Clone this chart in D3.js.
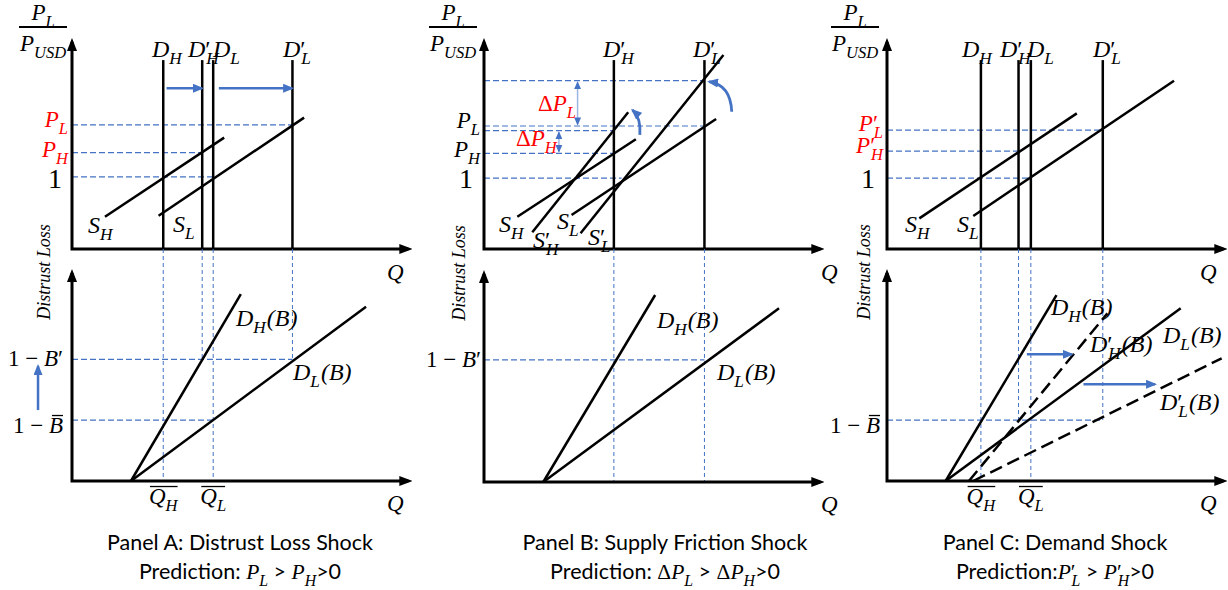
<!DOCTYPE html>
<html>
<head>
<meta charset="utf-8">
<script src="https://cdn.jsdelivr.net/npm/d3@7"></script>
<style>
  body { margin: 0; background: #fff; }
  svg text { font-family: "Liberation Serif", "DejaVu Serif", serif; font-style: italic; }
  svg text .up, svg text.up { font-style: normal; }
  svg text.cap, svg text .sans { font-family: Lato, "Open Sans", sans-serif; font-style: normal; }
  .guide { stroke: #4472C4; stroke-width: 1.2; stroke-dasharray: 6 3; fill: none; }
  .drop { stroke: #4472C4; stroke-width: 1; stroke-dasharray: 4 3; fill: none; }
  .curve { stroke: #000; stroke-width: 2.5; fill: none; }
  .dashcurve { stroke: #000; stroke-width: 2.5; fill: none; stroke-dasharray: 13 6; }
</style>
</head>
<body>
<svg id="chart" width="1228" height="590"></svg>
<script>
// ---------- Panel A: distrust loss shock ----------
const demandQA = [2.74, 3.91, 4.24, 6.62];
const demandNamesA = ["D_H", "D′_H", "D_L", "D′_L"];
const supplyA = [[0.99, 1.58, 4.57, 5.46], [2.60, 1.63, 6.97, 6.44]];
const supplyNamesA = ["S_H", "S_L"];
const priceLevelsA = [6.08, 4.72, 3.54];
const priceNamesA = ["P_L", "P_H", "1"];
const priceReachA = [6.62, 3.91, 4.24];
const scheduleA = [[1.77, 0, 5.07, 8.98], [1.77, 0, 8.83, 8.38]];
const scheduleNamesA = ["D_H(B)", "D_L(B)"];
const lossLevelsA = [5.85, 2.93];
const lossNamesA = ["1 − B′", "1 − B̄"];
const lossReachA = [6.62, 4.24];
const dropsA = [[2.74, 0], [3.91, 5.85], [4.24, 0], [6.62, 5.85]];
const qBarA = [2.74, 4.24];
const qBarNamesA = ["Q̄_H", "Q̄_L"];
const demandShiftsA = [[2.84, 3.90, 7.88], [4.41, 6.61, 7.88]];
const lossShiftA = [[-1.02, 3.41, 5.53]];

// ---------- Panel B: supply friction shock ----------
const demandQB = [3.90, 6.62];
const demandNamesB = ["D′_H", "D′_L"];
const supplyB = [[1.00, 1.58, 4.56, 5.38], [1.45, 0.82, 4.33, 6.70],
                 [2.63, 1.67, 6.97, 6.37], [2.90, 0.77, 7.19, 9.51]];
const supplyNamesB = ["S_H", "S′_H", "S_L", "S′_L"];
const priceLevelsB = [8.25, 6.03, 5.80, 4.69, 3.47];
const priceNamesB = ["", "P_L", "", "P_H", "1"];
const priceReachB = [6.62, 6.62, 3.90, 3.90, 4.13];
const deltaB = [[2.81, 6.03, 8.25], [2.25, 4.69, 5.80]];
const deltaNamesB = ["ΔP_L", "ΔP_H"];
const rotationsB = [[4.68, 5.59, 4.72, 6.42, 4.46, 6.81], [7.44, 6.73, 7.40, 8.05, 6.76, 8.20]];
const scheduleB = [[1.78, 0, 5.14, 8.99], [1.78, 0, 8.86, 8.35]];
const scheduleNamesB = ["D_H(B)", "D_L(B)"];
const lossLevelsB = [5.87];
const lossNamesB = ["1 − B′"];
const lossReachB = [6.62];
const dropsB = [[3.90, 0], [6.62, 0]];

// ---------- Panel C: demand shock ----------
const demandQC = [2.82, 3.95, 4.32, 6.48];
const demandNamesC = ["D_H", "D′_H", "D_L", "D′_L"];
const supplyC = [[0.97, 1.50, 5.70, 6.65], [2.59, 1.62, 8.62, 8.25]];
const supplyNamesC = ["S_H", "S_L"];
const priceLevelsC = [5.83, 4.80, 3.47];
const priceNamesC = ["P′_L", "P′_H", "1"];
const priceReachC = [6.48, 3.95, 4.32];
const scheduleC = [[1.76, 0, 5.09, 8.94], [1.76, 0, 8.82, 8.30]];
const scheduleNamesC = ["D_H(B)", "D_L(B)"];
const shiftedScheduleC = [[2.46, 0, 6.62, 8.06], [2.59, 0, 10.05, 5.90]];
const shiftedNamesC = ["D′_H(B)", "D′_L(B)"];
const lossLevelsC = [2.93];
const lossNamesC = ["1 − B̄"];
const lossReachC = [6.48];
const dropsC = [[2.82, 0], [3.95, 2.93], [4.32, 0], [6.48, 2.93]];
const qBarC = [2.82, 4.32];
const qBarNamesC = ["Q̄_H", "Q̄_L"];
const scheduleShiftsC = [[4.20, 5.55, 6.09], [5.90, 8.05, 4.65]];

// ---------- captions ----------
const panelTitles = ["Panel A: Distrust Loss Shock", "Panel B: Supply Friction Shock", "Panel C: Demand Shock"];
const predictions = [
  [["Prediction: ", "sans"], ["P_L", "math"], [" > ", "sans"], ["P_H", "math"], [">0", "sans"]],
  [["Prediction: ", "sans"], ["ΔP_L", "math"], [" > ", "sans"], ["ΔP_H", "math"], [">0", "sans"]],
  [["Prediction:", "sans"], ["P′_L", "math"], [" > ", "sans"], ["P′_H", "math"], [">0", "sans"]]
];

const BLUE = "#4472C4";
const RED = "#FF0000";

// shared scales: model units -> pixels measured from each panel's origin
const x = d3.scaleLinear().domain([0, 10]).range([0, 333]);
const yTop = d3.scaleLinear().domain([0, 10]).range([0, -204]);
const yBot = d3.scaleLinear().domain([0, 10]).range([0, -208]);

const svg = d3.select("#chart");
const defs = svg.append("defs");
function marker(id, color, w, h, ref) {
  defs.append("marker").attr("id", id)
    .attr("viewBox", `0 0 ${w} ${h}`)
    .attr("refX", ref).attr("refY", h / 2)
    .attr("markerWidth", w).attr("markerHeight", h)
    .attr("markerUnits", "userSpaceOnUse")
    .attr("orient", "auto-start-reverse")
    .append("path").attr("d", `M0,0L${w},${h / 2}L0,${h}Z`).attr("fill", color);
}
marker("axisHead", "#000", 13, 10, 9);
marker("blueHead", BLUE, 11, 9, 9);
marker("smallHead", BLUE, 8, 7, 7);

// Append a math expression (e.g. "D′_H(B)", "1 − B̄", "ΔP_L") as tspans.
// Returns the baseline shift still pending after a trailing subscript.
function appendMath(t, str, size) {
  if (str === "1") { t.append("tspan").attr("class", "up").text("1"); return { restore: 0 }; }
  const m = /^(1 − |Δ)?([A-Z])(\u0304)?(′)?(?:_([A-Z]+))?(.*)$/.exec(str);
  const [, pre, base, bar, prime, sub, tail] = m;
  if (pre) t.append("tspan").attr("class", "up").text(pre);
  t.append("tspan").text(base);
  if (prime) t.append("tspan").attr("class", "up").text("′");
  if (sub) t.append("tspan").attr("font-size", size * 0.72)
    .attr("dx", prime ? -size * 0.18 : 0).attr("dy", size * 0.3).text(sub);
  let restore = sub ? size * 0.3 : 0;
  if (tail) { t.append("tspan").attr("dy", -restore).attr("dx", 1).text(tail); restore = 0; }
  return { restore, bar: !!bar, sub: !!sub, barIndex: pre ? pre.length : 0 };
}

function mathLabel(g, px, py, str, o = {}) {
  const size = o.size || 23;
  const t = g.append("text").attr("x", px).attr("y", py)
    .attr("font-size", size).attr("fill", o.color || "#000")
    .attr("text-anchor", o.anchor || "start");
  const info = appendMath(t, str, size);
  if (info.bar) {
    let x0, x1;
    if (info.sub) { const b = t.node().getBBox(); x0 = b.x + 1; x1 = b.x + b.width - 1; }
    else { const e = t.node().getExtentOfChar(info.barIndex); x0 = e.x + 3; x1 = e.x + e.width; }
    g.append("line").attr("x1", x0).attr("x2", x1)
      .attr("y1", py - size * 0.76).attr("y2", py - size * 0.76)
      .attr("stroke", o.color || "#000").attr("stroke-width", 1.3);
  }
  return t;
}

function segment(g, seg, y, cls) {
  g.append("line").attr("class", cls)
    .attr("x1", x(seg[0])).attr("y1", y(seg[1]))
    .attr("x2", x(seg[2])).attr("y2", y(seg[3]));
}

function axes(g, y, yMax) {
  g.append("path")
    .attr("d", `M0,${y(yMax)}L0,0L${x(10.1)},0`)
    .attr("fill", "none").attr("stroke", "#000").attr("stroke-width", 3)
    .attr("marker-start", "url(#axisHead)").attr("marker-end", "url(#axisHead)");
}

function panel(c) {
  const T = svg.append("g").attr("transform", `translate(${c.ox},${c.top})`);
  const B = svg.append("g").attr("transform", `translate(${c.ox},${c.bot})`);
  const gap = c.bot - c.top;

  // dashed guides
  c.drops.forEach(d => B.append("line").attr("class", "drop")
    .attr("x1", x(d[0])).attr("x2", x(d[0])).attr("y1", -gap).attr("y2", yBot(d[1])));
  c.prices.forEach((p, i) => T.append("line").attr("class", "guide")
    .attr("x1", 0).attr("x2", x(c.priceReach[i])).attr("y1", yTop(p)).attr("y2", yTop(p)));
  c.losses.forEach((v, i) => B.append("line").attr("class", "guide")
    .attr("x1", 0).attr("x2", x(c.lossReach[i])).attr("y1", yBot(v)).attr("y2", yBot(v)));

  // supply and demand (upper)
  c.supply.forEach(s => segment(T, s, yTop, "curve"));
  c.demand.forEach(q => T.append("line").attr("class", "curve").attr("stroke-width", 2.6)
    .attr("x1", x(q)).attr("x2", x(q)).attr("y1", yTop(9.26)).attr("y2", 0));

  // distrust-loss schedules (lower)
  c.schedules.forEach(s => segment(B, s, yBot, "curve"));
  (c.shiftedSchedules || []).forEach(s => segment(B, s, yBot, "dashcurve"));

  // blue horizontal shift arrows
  (c.demandShifts || []).forEach(a => T.append("line")
    .attr("x1", x(a[0])).attr("x2", x(a[1])).attr("y1", yTop(a[2])).attr("y2", yTop(a[2]))
    .attr("stroke", BLUE).attr("stroke-width", 2.5).attr("marker-end", "url(#blueHead)"));
  (c.scheduleShifts || []).forEach(a => B.append("line")
    .attr("x1", x(a[0])).attr("x2", x(a[1])).attr("y1", yBot(a[2])).attr("y2", yBot(a[2]))
    .attr("stroke", BLUE).attr("stroke-width", 2.5).attr("marker-end", "url(#blueHead)"));
  (c.lossShift || []).forEach(a => B.append("line")
    .attr("x1", x(a[0])).attr("x2", x(a[0])).attr("y1", yBot(a[1])).attr("y2", yBot(a[2]))
    .attr("stroke", BLUE).attr("stroke-width", 2.5).attr("marker-end", "url(#blueHead)"));
  // price-change brackets
  (c.deltas || []).forEach(a => T.append("line")
    .attr("x1", x(a[0])).attr("x2", x(a[0])).attr("y1", yTop(a[1]) - 1.5).attr("y2", yTop(a[2]) + 1.5)
    .attr("stroke", "#9DB5E3").attr("stroke-width", 1.5)
    .attr("marker-start", "url(#smallHead)").attr("marker-end", "url(#smallHead)"));
  // rotation arrows of the supply curves
  (c.rotations || []).forEach(r => T.append("path")
    .attr("d", `M${x(r[0])},${yTop(r[1])}Q${x(r[2])},${yTop(r[3])} ${x(r[4])},${yTop(r[5])}`)
    .attr("fill", "none").attr("stroke", BLUE).attr("stroke-width", 2.8)
    .attr("marker-end", "url(#blueHead)"));

  axes(T, yTop, 10.15);
  axes(B, yBot, 10.0);

  // ----- labels -----
  c.demandNames.forEach((n, i) => mathLabel(T, c.L.demandX[i], -192, n, { size: 24 }));
  c.supplyNames.forEach((n, i) => mathLabel(T, c.L.supplyXY[i][0], c.L.supplyXY[i][1], n, { size: 24 }));
  c.priceNames.forEach((n, i) => {
    if (!n) return;
    const xy = c.L.priceXY[i];
    mathLabel(T, xy[0], xy[1], n, { size: n === "1" ? 28 : 23, anchor: "end", color: n === "1" ? "#000" : c.priceColor });
  });
  (c.deltaNames || []).forEach((n, i) => mathLabel(T, c.L.deltaXY[i][0], c.L.deltaXY[i][1], n, { size: 23, color: RED }));
  c.scheduleNames.forEach((n, i) => mathLabel(B, c.L.scheduleXY[i][0], c.L.scheduleXY[i][1], n, { size: 24 }));
  (c.shiftedNames || []).forEach((n, i) => mathLabel(B, c.L.shiftedXY[i][0], c.L.shiftedXY[i][1], n, { size: 24 }));
  c.lossNames.forEach((n, i) => mathLabel(B, c.L.lossXY[i][0], c.L.lossXY[i][1], n, { size: 23, anchor: "end" }));
  (c.qBarNames || []).forEach((n, i) => mathLabel(B, x(c.qBar[i]), 23, n, { size: 23, anchor: "middle" }));

  mathLabel(T, c.L.qX, 31, "Q", { size: 23 });
  mathLabel(B, c.L.qX, 30, "Q", { size: 23 });

  // price ratio fraction on the vertical axis
  mathLabel(T, c.L.fracX, -229, "P_L", { size: 23, anchor: "middle" });
  T.append("line").attr("x1", c.L.fracX - 24).attr("x2", c.L.fracX + 24)
    .attr("y1", -222).attr("y2", -222).attr("stroke", "#000").attr("stroke-width", 2);
  mathLabel(T, c.L.fracX, -198, "P_USD", { size: 23, anchor: "middle" });

  B.append("text").attr("transform", `translate(${c.L.distrustX},-209) rotate(-90)`)
    .attr("text-anchor", "middle").attr("dominant-baseline", "middle")
    .attr("font-size", 18).text("Distrust Loss");
}

panel({
  ox: 72, top: 249, bot: 481, priceColor: RED,
  demand: demandQA, demandNames: demandNamesA,
  supply: supplyA, supplyNames: supplyNamesA,
  prices: priceLevelsA, priceNames: priceNamesA, priceReach: priceReachA,
  schedules: scheduleA, scheduleNames: scheduleNamesA,
  losses: lossLevelsA, lossNames: lossNamesA, lossReach: lossReachA,
  drops: dropsA, qBar: qBarA, qBarNames: qBarNamesA,
  demandShifts: demandShiftsA, lossShift: lossShiftA,
  L: {
    demandX: [80, 116, 141, 211],
    supplyXY: [[16, -16], [101, -17]],
    priceXY: [[-4, -122], [-4, -92], [-10, -61]],
    scheduleXY: [[164, -155], [221, -101]],
    lossXY: [[-9, -115], [-9, -48]],
    qX: 315, fracX: -29, distrustX: -26
  }
});

panel({
  ox: 484, top: 249, bot: 482, priceColor: "#000",
  demand: demandQB, demandNames: demandNamesB,
  supply: supplyB, supplyNames: supplyNamesB,
  prices: priceLevelsB, priceNames: priceNamesB, priceReach: priceReachB,
  schedules: scheduleB, scheduleNames: scheduleNamesB,
  losses: lossLevelsB, lossNames: lossNamesB, lossReach: lossReachB,
  drops: dropsB, deltas: deltaB, deltaNames: deltaNamesB, rotations: rotationsB,
  L: {
    demandX: [119, 209],
    supplyXY: [[15, -17], [49, -1], [73, -20], [104, -4]],
    priceXY: [null, [-4, -121], null, [-4, -92], [-11, -61]],
    deltaXY: [[54, -138], [32, -103]],
    scheduleXY: [[173, -154], [233, -102]],
    lossXY: [[-3, -115]],
    qX: 337, fracX: -31, distrustX: -23
  }
});

panel({
  ox: 887, top: 249, bot: 481, priceColor: RED,
  demand: demandQC, demandNames: demandNamesC,
  supply: supplyC, supplyNames: supplyNamesC,
  prices: priceLevelsC, priceNames: priceNamesC, priceReach: priceReachC,
  schedules: scheduleC, scheduleNames: scheduleNamesC,
  shiftedSchedules: shiftedScheduleC, shiftedNames: shiftedNamesC,
  losses: lossLevelsC, lossNames: lossNamesC, lossReach: lossReachC,
  drops: dropsC, qBar: qBarC, qBarNames: qBarNamesC,
  scheduleShifts: scheduleShiftsC,
  L: {
    demandX: [75, 113, 140, 206],
    supplyXY: [[18, -17], [70, -17]],
    priceXY: [[-4, -118], [-4, -96], [-12, -61]],
    scheduleXY: [[164, -166], [276, -138]],
    shiftedXY: [[203, -129], [273, -71]],
    lossXY: [[-7, -48]],
    qX: 313, fracX: -32, distrustX: -21
  }
});

// captions under each panel
const captionX = [240, 665, 1055];
panelTitles.forEach((title, i) => {
  svg.append("text").attr("class", "cap").attr("x", captionX[i]).attr("y", 550)
    .attr("text-anchor", "middle").attr("font-size", 21.5).text(title);
  const t = svg.append("text").attr("x", captionX[i]).attr("y", 579)
    .attr("text-anchor", "middle").attr("font-size", 21.5);
  let pending = 0;
  predictions[i].forEach(([s, kind]) => {
    if (kind === "sans") {
      t.append("tspan").attr("class", "sans").attr("dy", -pending).text(s);
      pending = 0;
    } else {
      t.append("tspan").attr("dy", -pending).text("");
      pending = appendMath(t, s, 22).restore;
    }
  });
});
</script>
</body>
</html>
